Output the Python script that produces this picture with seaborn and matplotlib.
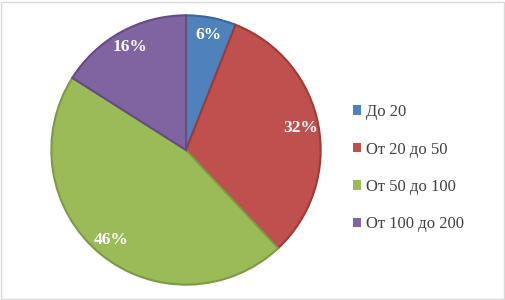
import matplotlib
matplotlib.use("Agg")
import matplotlib.pyplot as plt
import seaborn as sns
from matplotlib.patches import Rectangle

# Data
categories = ["До 20", "От 20 до 50", "От 50 до 100", "От 100 до 200"]
shares = [6, 32, 46, 16]
colors = ["#4F81BD", "#C0504D", "#9BBB59", "#8064A2"]
edge_colors = ["#3A6597", "#9C3B38", "#7D9A44", "#634D82"]

sns.set_style("white")
plt.rcParams['font.family'] = ['Liberation Serif', 'DejaVu Serif']

fig = plt.figure(figsize=(5.06, 3.0), dpi=100)
ax = fig.add_axes([50 / 506, 14 / 300, 272 / 506, 272 / 300])

wedges, texts, autotexts = ax.pie(
    shares,
    colors=sns.color_palette(colors),
    startangle=90,
    counterclock=False,
    autopct='%d%%',
    pctdistance=0.87,
    wedgeprops=dict(linewidth=1.5),
    textprops=dict(color='white', fontweight='bold', fontsize=12.5),
)
for w, ec in zip(wedges, edge_colors):
    w.set_edgecolor(ec)
ax.set_xlim(-1.01, 1.01)
ax.set_ylim(-1.01, 1.01)
ax.axis('off')

leg = fig.legend(
    wedges, categories,
    loc='upper left',
    bbox_to_anchor=(353 / 506, 1 - 104 / 300),
    frameon=False,
    borderpad=0,
    borderaxespad=0,
    fontsize=12,
    handlelength=0.5,
    handleheight=0.5,
    handletextpad=0.3,
    labelspacing=1.29,
)
for t in leg.get_texts():
    t.set_color('#404040')
for h in leg.legend_handles:
    h.set_linewidth(0)

# outer chart frame
fig.patches.append(Rectangle((1 / 506, 1 / 300), 503 / 506, 297 / 300,
                             transform=fig.transFigure, fill=False,
                             edgecolor='#D9D9D9', linewidth=1))

fig.savefig("out.png", dpi=100)
